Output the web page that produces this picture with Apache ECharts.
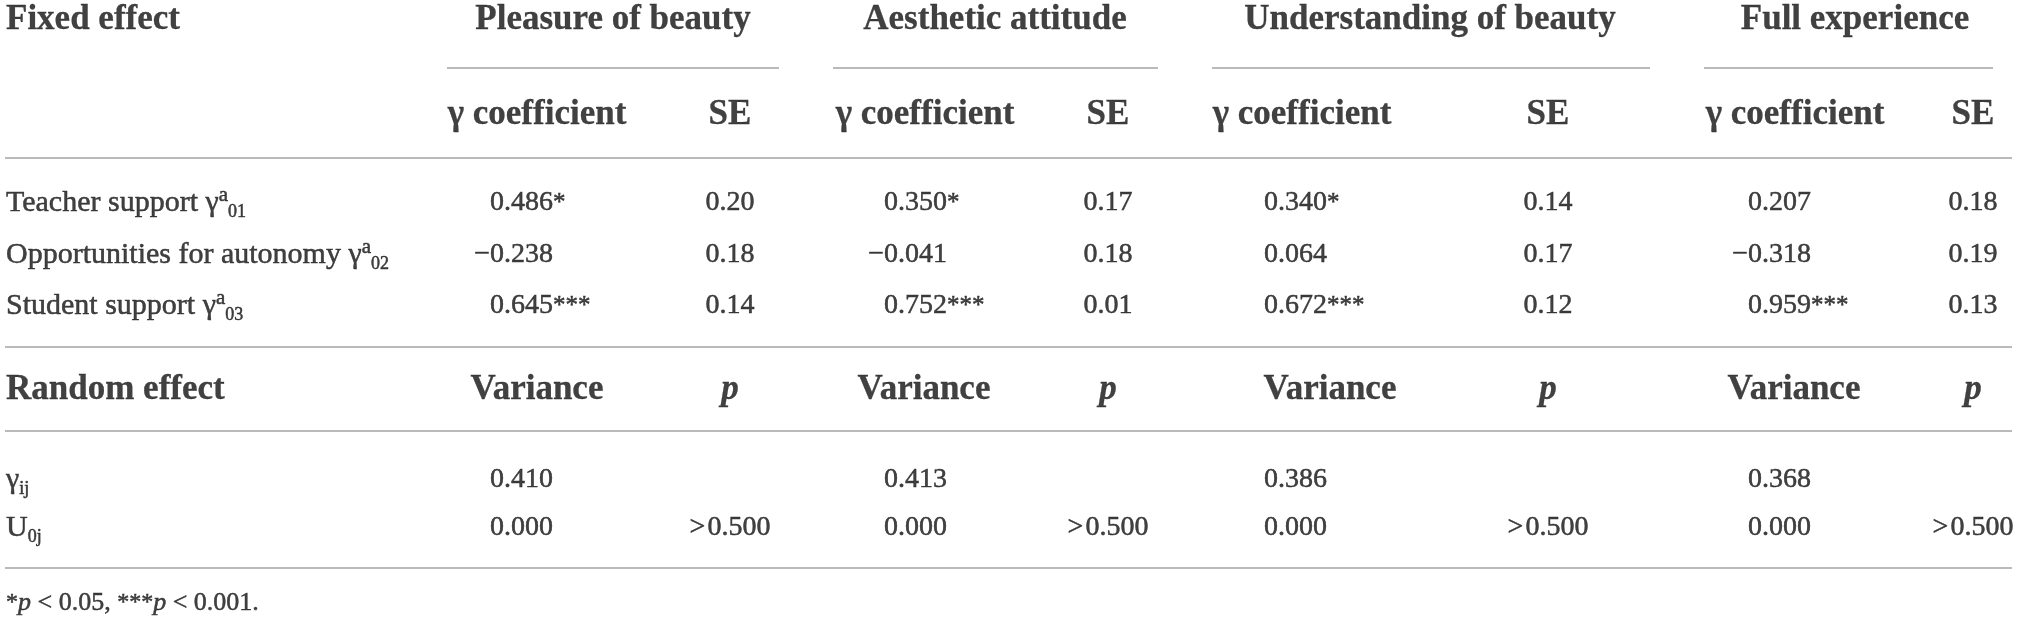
<!DOCTYPE html>
<html>
<head>
<meta charset="utf-8">
<script src="https://cdn.jsdelivr.net/npm/echarts@6/dist/echarts.min.js"></script>
<style>
  html, body { margin: 0; padding: 0; background: #fff; }
  #main { width: 2019px; height: 621px; }
</style>
</head>
<body>
<div id="main"></div>
<script>
// ---- table values ----
const groups = ['Pleasure of beauty', 'Aesthetic attitude', 'Understanding of beauty', 'Full experience'];
const fixedLabels = ['Teacher support', 'Opportunities for autonomy', 'Student support'];
const fixedSubs = ['01', '02', '03'];
const coef = [
  [0.486, -0.238, 0.645],
  [0.350, -0.041, 0.752],
  [0.340, 0.064, 0.672],
  [0.207, -0.318, 0.959]
];
const coefSig = [
  ['*', '', '***'],
  ['*', '', '***'],
  ['*', '', '***'],
  ['', '', '***']
];
const se = [
  [0.20, 0.18, 0.14],
  [0.17, 0.18, 0.01],
  [0.14, 0.17, 0.12],
  [0.18, 0.19, 0.13]
];
const randomLabels = ['γ{sub|ij}', 'U{sub|0j}'];
const variance = [
  [0.410, 0.000],
  [0.413, 0.000],
  [0.386, 0.000],
  [0.368, 0.000]
];
const pValues = [
  ['', '>\u200A0.500'],
  ['', '>\u200A0.500'],
  ['', '>\u200A0.500'],
  ['', '>\u200A0.500']
];
const footnote = '{st|*}{ip|p} < 0.05, {st|***}{ip|p} < 0.001.';

// ---- layout (pixels of the 2019 x 621 canvas) ----
const W = 2019, H = 621;
const L = {
  leftX: 6,
  titleY: 20, groupRuleY: 68, subY: 115,
  fixedY: [203, 255, 306],
  randY: 390,
  randRowY: [480, 528],
  footY: 603,
  fullRuleY: [158, 347, 431, 568],
  fullRuleX: [5, 2012],
  groupX: [613, 995, 1430, 1855],
  groupRule: [[447, 779], [833, 1158], [1212, 1650], [1704, 1993]],
  coefHeadX: [537, 925, 1302, 1795],
  numX: [553, 947, 1327, 1811],
  seX: [730, 1108, 1548, 1973],
  varHeadX: [537, 924, 1330, 1794]
};

const FONT = '"Liberation Serif", "Times New Roman", serif';
const INK = '#111';
const RULE = '#a3a3a3';
// a hairline stroke makes Liberation Serif read closer to the heavier original face
const INKED = { fontFamily: FONT, color: INK, textBorderColor: INK, textBorderWidth: 0.5 };

const rich = {
  sup: Object.assign({ fontSize: 21, lineHeight: 21, verticalAlign: 'top' }, INKED),
  sub: Object.assign({ fontSize: 18, lineHeight: 18, verticalAlign: 'bottom' }, INKED),
  ip: Object.assign({ fontSize: 26, fontStyle: 'italic' }, INKED),
  st: Object.assign({ fontSize: 24 }, INKED),
  star: Object.assign({ fontSize: 25 }, INKED)
};

function fmt(n, d) {
  return (n < 0 ? '\u2212' : '') + Math.abs(n).toFixed(d);
}

function cell(x, y, text, opt) {
  return {
    value: [x, y],
    label: Object.assign({
      formatter: function () { return text; },
      align: 'left',
      fontSize: 28,
      fontWeight: 'normal',
      lineHeight: 34
    }, opt || {})
  };
}
const head = { fontSize: 35, fontWeight: 'bold', lineHeight: 40, textBorderWidth: 0.3 };
const rowText = { fontSize: 30, lineHeight: 36 };

const cells = [];
const rules = [];

// header rows
cells.push(cell(L.leftX, L.titleY, 'Fixed effect', head));
groups.forEach(function (g, i) {
  cells.push(cell(L.groupX[i], L.titleY, g, Object.assign({ align: 'center' }, head)));
  rules.push([L.groupRule[i][0], L.groupRule[i][1], L.groupRuleY]);
  cells.push(cell(L.coefHeadX[i], L.subY, 'γ coefficient', Object.assign({ align: 'center' }, head)));
  cells.push(cell(L.seX[i], L.subY, 'SE', Object.assign({ align: 'center' }, head)));
});

// fixed effect rows
fixedLabels.forEach(function (name, r) {
  const y = L.fixedY[r];
  cells.push(cell(L.leftX, y, name + ' γ{sup|a}{sub|' + fixedSubs[r] + '}', rowText));
  groups.forEach(function (g, i) {
    cells.push(cell(L.numX[i], y, fmt(coef[i][r], 3), { align: 'right' }));
    if (coefSig[i][r]) cells.push(cell(L.numX[i], y, '{star|' + coefSig[i][r] + '}'));
    cells.push(cell(L.seX[i], y, fmt(se[i][r], 2), { align: 'center' }));
  });
});

// random effect header
cells.push(cell(L.leftX, L.randY, 'Random effect', head));
groups.forEach(function (g, i) {
  cells.push(cell(L.varHeadX[i], L.randY, 'Variance', Object.assign({ align: 'center' }, head)));
  cells.push(cell(L.seX[i], L.randY, 'p', Object.assign({ align: 'center', fontStyle: 'italic' }, head)));
});

// random effect rows
randomLabels.forEach(function (name, r) {
  const y = L.randRowY[r];
  cells.push(cell(L.leftX, y, name, rowText));
  groups.forEach(function (g, i) {
    cells.push(cell(L.numX[i], y, fmt(variance[i][r], 3), { align: 'right' }));
    if (pValues[i][r]) cells.push(cell(L.seX[i], y, pValues[i][r], { align: 'center' }));
  });
});

// footnote
cells.push(cell(L.leftX, L.footY, footnote, { fontSize: 26 }));

L.fullRuleY.forEach(function (y) { rules.push([L.fullRuleX[0], L.fullRuleX[1], y]); });

const chart = echarts.init(document.getElementById('main'), null, { renderer: 'canvas' });
chart.setOption({
  backgroundColor: '#fff',
  animation: false,
  grid: { left: 0, right: 0, top: 0, bottom: 0 },
  xAxis: { type: 'value', min: 0, max: W, show: false },
  yAxis: { type: 'value', min: 0, max: H, inverse: true, show: false },
  series: [
    {
      type: 'lines',
      coordinateSystem: 'cartesian2d',
      silent: true,
      lineStyle: { color: RULE, width: 1.5, opacity: 1 },
      data: rules.map(function (r) { return { coords: [[r[0], r[2]], [r[1], r[2]]] }; })
    },
    {
      type: 'scatter',
      symbolSize: 0,
      silent: true,
      label: Object.assign({
        show: true,
        position: 'inside',
        verticalAlign: 'middle',
        rich: rich
      }, INKED),
      emphasis: { disabled: true },
      data: cells
    }
  ]
});
</script>
</body>
</html>
